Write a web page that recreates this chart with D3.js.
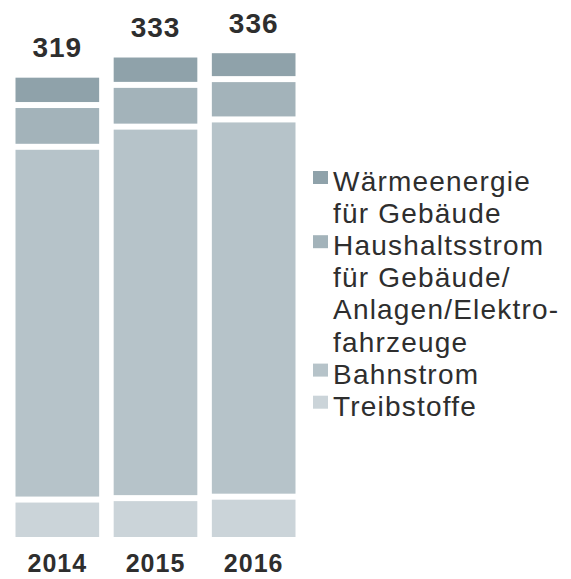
<!DOCTYPE html>
<html>
<head>
<meta charset="utf-8">
<script src="https://cdn.jsdelivr.net/npm/d3@7"></script>
<style>
  html, body { margin: 0; padding: 0; background: #fff; }
  svg { display: block; }
  text { font-family: "Liberation Sans", Arial, sans-serif; fill: #2e2e2e; }
</style>
</head>
<body>
<svg id="chart" width="571" height="579"></svg>
<script>
const years = ["2014", "2015", "2016"];
const seriesNames = ["Treibstoffe", "Bahnstrom", "Haushaltsstrom", "Wärmeenergie"];
const treibstoffe = [26, 27, 28];
const bahnstrom = [245, 258, 262];
const haushaltsstrom = [29, 29, 28];
const waermeenergie = [19, 19, 18];
const totals = [319, 333, 336];
const colors = ["#cbd4d9", "#b6c3c9", "#a3b3ba", "#8fa2aa"];
const legendLines = [
  { text: "Wärmeenergie", key: 3 },
  { text: "für Gebäude", key: null },
  { text: "Haushaltsstrom", key: 2 },
  { text: "für Gebäude/", key: null },
  { text: "Anlagen/Elektro-", key: null },
  { text: "fahrzeuge", key: null },
  { text: "Bahnstrom", key: 1 },
  { text: "Treibstoffe", key: 0 }
];

const svg = d3.select("#chart");
const table = years.map((y, i) => ({
  year: y,
  Treibstoffe: treibstoffe[i],
  Bahnstrom: bahnstrom[i],
  Haushaltsstrom: haushaltsstrom[i],
  "Wärmeenergie": waermeenergie[i],
  total: totals[i]
}));
const stack = d3.stack().keys(seriesNames)(table);

const x = d3.scaleBand().domain(years).range([15.5, 295.5]).paddingInner(0.148).paddingOuter(0);
const y = d3.scaleLinear().domain([0, 336]).range([537, 53.2]);
const gap = 3;

const layers = svg.append("g").selectAll("g").data(stack).join("g")
  .attr("fill", (d, i) => colors[i]);
layers.each(function (layer, li) {
  d3.select(this).selectAll("rect").data(layer).join("rect")
    .attr("x", d => x(d.data.year))
    .attr("width", x.bandwidth())
    .attr("y", d => y(d[1]) + (li < seriesNames.length - 1 ? gap : 0))
    .attr("height", d => {
      const top = y(d[1]) + (li < seriesNames.length - 1 ? gap : 0);
      const bot = y(d[0]) - (li > 0 ? gap : 0);
      return bot - top;
    });
});

svg.append("g").selectAll("text").data(table).join("text")
  .attr("x", d => x(d.year) + x.bandwidth() / 2)
  .attr("y", d => y(d.total) - 20.5)
  .attr("text-anchor", "middle")
  .style("font-size", "28px").style("font-weight", "bold").style("letter-spacing", "1px")
  .text(d => d.total);

svg.append("g").selectAll("text").data(years).join("text")
  .attr("x", d => x(d) + x.bandwidth() / 2)
  .attr("y", 572)
  .attr("text-anchor", "middle")
  .style("font-size", "25px").style("font-weight", "bold").style("letter-spacing", "1px")
  .text(d => d);

const lg = svg.append("g");
const lineStep = 32.1, base0 = 191;
legendLines.forEach((l, i) => {
  const by = base0 + i * lineStep;
  if (l.key !== null) {
    lg.append("rect").attr("x", 313).attr("y", by - 20).attr("width", 15).attr("height", 13)
      .attr("fill", colors[l.key]);
  }
  lg.append("text").attr("x", 333).attr("y", by)
    .style("font-size", "28px").style("letter-spacing", "1.2px")
    .text(l.text);
});
</script>
</body>
</html>
